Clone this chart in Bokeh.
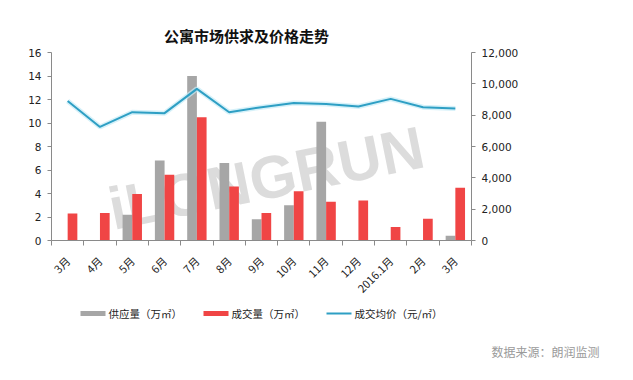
import math
from bokeh.plotting import figure
from bokeh.layouts import column
from bokeh.models import (Range1d, LinearAxis, FixedTicker, NumeralTickFormatter, ColumnDataSource)
from bokeh.core.properties import value
from bokeh.embed import file_html
from bokeh.resources import INLINE

months = ["3月", "4月", "5月", "6月", "7月", "8月", "9月", "10月", "11月", "12月", "2016.1月", "2月", "3月"]
supply = [0, 0, 2.2, 6.8, 14.0, 6.6, 1.8, 3.0, 10.1, 0, 0, 0, 0.4]
deal = [2.3, 2.35, 3.95, 5.6, 10.5, 4.6, 2.35, 4.2, 3.3, 3.4, 1.15, 1.85, 4.5]
price = [8900, 7250, 8190, 8130, 9680, 8190, 8510, 8770, 8720, 8550, 9040, 8510, 8430]
left_ticks = [0, 2, 4, 6, 8, 10, 12, 14, 16]
right_ticks = [0, 2000, 4000, 6000, 8000, 10000, 12000]
series_names = ["供应量（万㎡）", "成交量（万㎡）", "成交均价（元/㎡）"]
title_text = "公寓市场供求及价格走势"
source_text = "数据来源：朗润监测"
watermark = "iLONGRUN"

GRAY = "#a6a6a6"
RED = "#f04545"
BLUE = "#2e9fc4"
W = 633
FL, FR = 51, 471   # frame left / right in page pixels (frames are aligned in the column)


def blank(h, **kw):
    f = figure(width=W, height=h, x_range=Range1d(FL, FR), y_range=Range1d(h, 0),
               output_backend="svg", toolbar_location=None,
               min_border_left=FL, min_border_right=W - FR, min_border_top=0, min_border_bottom=0, **kw)
    f.axis.visible = False
    f.grid.visible = False
    f.outline_line_color = None
    return f


# ---- header (title)
HEAD_H = 45
head = blank(HEAD_H)
head.text(x=[246], y=[35], text=[title_text], text_align="center", text_baseline="middle",
          text_font=value("Noto Sans CJK SC"), text_font_style="bold", text_font_size="15px",
          text_color="#111111")

# ---- chart
n = len(months)
centers = [i + 0.5 for i in range(n)]
bounds = list(range(n + 1))

src = ColumnDataSource(dict(
    c=centers,
    xs=[c - 0.15 for c in centers],
    xd=[c + 0.15 for c in centers],
    supply=supply, deal=deal, price=price,
))

CH_H = 261
p = figure(width=W, height=CH_H, x_range=Range1d(0, n), y_range=Range1d(0, 16),
           output_backend="svg", toolbar_location=None,
           min_border_left=FL, min_border_right=W - FR, min_border_top=7, min_border_bottom=66)
p.outline_line_color = None
p.xgrid.grid_line_color = None
p.ygrid.grid_line_color = None
p.extra_y_ranges = {"price": Range1d(0, 12000)}

# watermark
p.text(x=[6.65], y=[5.3], text=[watermark], angle=0.2,
       text_font_size="60px", text_font_style="bold", text_color="#8c8c8c", text_alpha=0.3,
       text_align="center", text_baseline="middle", text_font=value("Liberation Sans"))

p.vbar(x="xs", top="supply", width=0.3, source=src, fill_color=GRAY, line_color=None)
p.vbar(x="xd", top="deal", width=0.3, source=src, fill_color=RED, line_color=None)
p.line(x="c", y="price", source=src, y_range_name="price", line_color="#c4ebf7", line_width=5, line_alpha=0.7)
p.line(x="c", y="price", source=src, y_range_name="price", line_color=BLUE, line_width=2)

axis_col = "#8a8a8a"
ya = p.yaxis[0]
ya.ticker = FixedTicker(ticks=left_ticks)
ya.axis_line_color = axis_col
ya.major_tick_line_color = axis_col
ya.major_tick_in = 0
ya.major_tick_out = 4
ya.minor_tick_line_color = None
ya.major_label_text_font = "DejaVu Sans"
ya.major_label_text_font_size = "10.5px"
ya.major_label_text_color = "#222222"
ya.major_label_standoff = 6

ra = LinearAxis(y_range_name="price", ticker=FixedTicker(ticks=right_ticks),
                formatter=NumeralTickFormatter(format="0,0"))
ra.axis_line_color = axis_col
ra.major_tick_line_color = axis_col
ra.major_tick_in = 0
ra.major_tick_out = 4
ra.minor_tick_line_color = None
ra.major_label_text_font = "DejaVu Sans"
ra.major_label_text_font_size = "10.5px"
ra.major_label_text_color = "#222222"
ra.major_label_standoff = 6
p.add_layout(ra, "right")

xa = p.xaxis[0]
xa.ticker = FixedTicker(ticks=centers, minor_ticks=bounds)
xa.major_label_overrides = {c: m for c, m in zip(centers, months)}
xa.axis_line_color = axis_col
xa.major_tick_line_color = None
xa.minor_tick_line_color = axis_col
xa.minor_tick_in = 0
xa.minor_tick_out = 5
xa.major_label_orientation = math.pi / 4
xa.major_label_text_font = "Noto Sans CJK SC"
xa.major_label_text_font_size = "11px"
xa.major_label_text_color = "#222222"
xa.major_label_standoff = 12

# ---- legend strip
SRC_H = 45
LEG_H = 380 - HEAD_H - CH_H - SRC_H
top_leg = HEAD_H + CH_H
leg = blank(LEG_H)
ly = 313 - top_leg
x0s = [80, 203, 326]
leg.rect(x=[x0s[0] + 12.5], y=[ly], width=25, height=5, fill_color=GRAY, line_color=None)
leg.rect(x=[x0s[1] + 12.5], y=[ly], width=25, height=5, fill_color=RED, line_color=None)
leg.line(x=[x0s[2], x0s[2] + 25], y=[ly, ly], line_color=BLUE, line_width=2)
leg.text(x=[x + 28 for x in x0s], y=[ly] * 3, text=series_names, text_align="left",
         text_baseline="middle", text_font=value("Noto Sans CJK SC"), text_font_size="10.5px",
         text_color="#222222")

# ---- source strip (title text is not clipped to the frame)
srcf = figure(width=W, height=SRC_H, x_range=Range1d(0, 1), y_range=Range1d(0, 1),
              output_backend="svg", toolbar_location=None,
              min_border_left=FL, min_border_right=W - FR, min_border_top=9, min_border_bottom=0)
srcf.axis.visible = False
srcf.grid.visible = False
srcf.outline_line_color = None
srcf.title.text = source_text
srcf.title.align = "left"
srcf.title.offset = 491 - FL
srcf.title.text_font = "Noto Sans CJK SC"
srcf.title.text_font_style = "normal"
srcf.title.text_font_size = "12px"
srcf.title.text_color = "#9a9a9a"

layout = column(head, p, leg, srcf, spacing=0)
open("out.html", "w").write(file_html(layout, INLINE))
